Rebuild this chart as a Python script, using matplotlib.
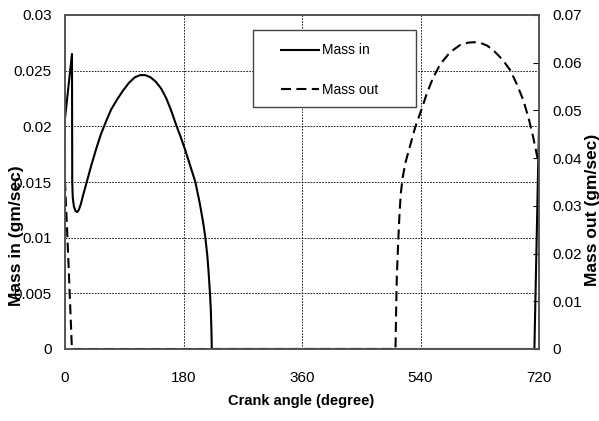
import matplotlib
matplotlib.use("Agg")
import matplotlib.pyplot as plt
from matplotlib.patches import Rectangle

plt.rcParams['font.family'] = ['Liberation Sans', 'DejaVu Sans']

# Mass flow into the cylinder (left axis), gm/sec vs crank angle
angle_in = [0, 10.6, 11.0, 11.8, 13.5, 16, 18.7, 21, 24, 27, 33, 40, 47, 54,
            62, 70, 79, 88, 97, 106, 114, 122, 130, 138, 146, 154, 162, 169,
            176, 183, 190, 198, 205, 210, 213, 216, 218, 220, 221.5, 222.5,
            223, 713, 720]
mass_in = [0.0207, 0.0265, 0.0150, 0.0136, 0.0128, 0.0124, 0.0123, 0.0125,
           0.0130, 0.0137, 0.0150, 0.0165, 0.0179, 0.0192, 0.0204, 0.0215,
           0.0224, 0.0232, 0.0239, 0.0244, 0.0246, 0.0246, 0.0244, 0.0240,
           0.0234, 0.0225, 0.0213, 0.0201, 0.0190, 0.0178, 0.0165, 0.0150,
           0.0130, 0.0113, 0.0101, 0.0085, 0.0070, 0.0052, 0.0035, 0.0015,
           0.0, 0.0, 0.0200]

# Mass flow out of the cylinder (right axis), gm/sec vs crank angle
angle_out = [0, 5, 10.5, 502, 503, 504, 506, 508, 510, 513, 517, 524, 532,
             541, 550, 559, 570, 585, 600, 612, 621, 632, 641, 650, 660, 668,
             676, 686, 696, 704, 711, 717, 720]
mass_out = [0.0352, 0.0190, 0.0, 0.0, 0.008, 0.015, 0.022, 0.028, 0.0325,
            0.0360, 0.0390, 0.0425, 0.0465, 0.0500, 0.0537, 0.0568, 0.0597,
            0.0622, 0.0637, 0.0642, 0.0643, 0.0641, 0.0636, 0.0627, 0.0613,
            0.0600, 0.0585, 0.0556, 0.0522, 0.0485, 0.0445, 0.0405, 0.0385]

x_ticks = [0, 180, 360, 540, 720]
left_ticks = [0, 0.005, 0.01, 0.015, 0.02, 0.025, 0.03]
left_labels = ['0', '0.005', '0.01', '0.015', '0.02', '0.025', '0.03']
right_ticks = [0, 0.01, 0.02, 0.03, 0.04, 0.05, 0.06, 0.07]
right_labels = ['0', '0.01', '0.02', '0.03', '0.04', '0.05', '0.06', '0.07']

W, H = 599, 421
fig = plt.figure(figsize=(W / 100, H / 100), dpi=100)
ax = fig.add_axes([65 / W, (H - 349) / H, 474 / W, 334 / H])
ax2 = ax.twinx()

line_in, = ax.plot(angle_in, mass_in, color='black', lw=1.5,
                   solid_joinstyle='round')
line_out, = ax2.plot(angle_out, mass_out, color='black', lw=1.5,
                     linestyle=(0, (4.8, 2.6)))

ax.set_xlim(0, 720)
ax.set_ylim(0, 0.03)
ax2.set_ylim(0, 0.07)

ax.set_xticks(x_ticks)
ax.set_xticklabels([str(t) for t in x_ticks], fontsize=11)
ax.set_yticks(left_ticks)
ax.set_yticklabels(left_labels, fontsize=11)
ax2.set_yticks(right_ticks)
ax2.set_yticklabels(right_labels, fontsize=11)

ax.tick_params(axis='x', length=0, pad=16)
ax.tick_params(axis='y', length=0, pad=9.5)
ax2.tick_params(axis='y', direction='in', length=4, width=0.8, pad=9.5)

ax.grid(True, color='black', linestyle=(0, (2, 1.5)), linewidth=0.6)
ax.set_axisbelow(True)

for a in (ax, ax2):
    for sp in a.spines.values():
        sp.set_color('#555555')
        sp.set_linewidth(1.2)

fig.text(301 / W, 1 - 401 / H, 'Crank angle (degree)', ha='center',
         va='center', fontsize=10.5, fontweight='bold')
fig.text(17 / W, 1 - 236 / H, 'Mass in (gm/sec)', ha='center', va='center',
         rotation=90, fontsize=12.5, fontweight='bold')
fig.text(592 / W, 1 - 210 / H, 'Mass out (gm/sec)', ha='center', va='center',
         rotation=90, fontsize=12.5, fontweight='bold')

# Legend box with entries placed inside it
fig.patches.append(Rectangle((253 / W, 1 - 107 / H), (416 - 253) / W,
                             (107 - 30) / H, transform=fig.transFigure,
                             facecolor='white', edgecolor='#444444',
                             linewidth=1.0, zorder=5))
leg = fig.legend([line_in, line_out], ['Mass in', 'Mass out'],
                 loc='upper left', bbox_to_anchor=(281 / W, 1 - 43.5 / H),
                 frameon=False, fontsize=10, handlelength=2.7,
                 handletextpad=0.25, labelspacing=1.8, borderpad=0,
                 borderaxespad=0)
leg.set_zorder(6)

fig.savefig('out.png', dpi=100)
